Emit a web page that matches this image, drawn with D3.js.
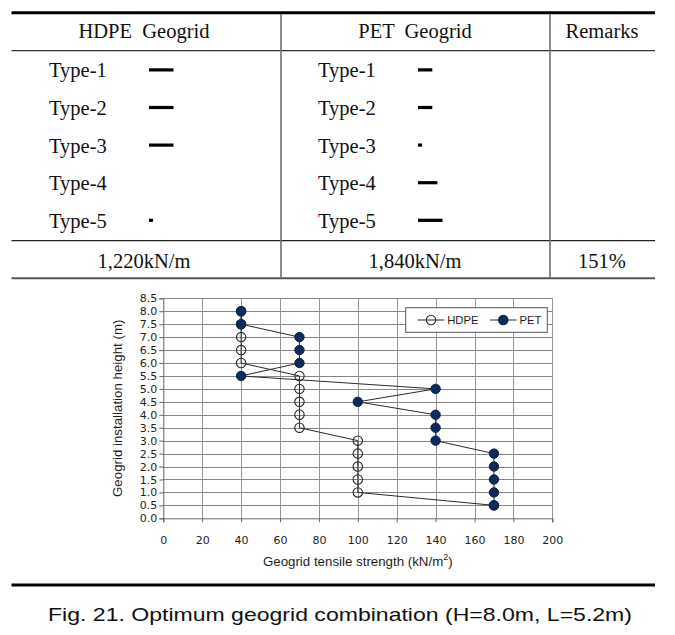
<!DOCTYPE html>
<html>
<head>
<meta charset="utf-8">
<script src="https://cdn.jsdelivr.net/npm/d3@7"></script>
<style>
  html, body { margin: 0; padding: 0; background: #fff; }
  svg { display: block; }
</style>
</head>
<body>
<svg id="fig" width="675" height="635"></svg>
<script>
// ---------- Table data ----------
const tableHeaders = ["HDPE  Geogrid", "PET  Geogrid", "Remarks"];
const typeLabels = ["Type-1", "Type-2", "Type-3", "Type-4", "Type-5"];
const hdpeUnits = [5, 5, 5, 0, 1];
const petUnits = [3, 3, 1, 4, 5];
const totals = ["1,220kN/m", "1,840kN/m", "151%"];

// ---------- Chart data ----------
const heights = [0.5, 1.0, 1.5, 2.0, 2.5, 3.0, 3.5, 4.0, 4.5, 5.0, 5.5, 6.0, 6.5, 7.0, 7.5, 8.0];
const hdpeStrength = [170, 100, 100, 100, 100, 100, 70, 70, 70, 70, 70, 40, 40, 40, 40, 40];
const petStrength  = [170, 170, 170, 170, 170, 140, 140, 140, 100, 140, 40, 70, 70, 70, 40, 40];
const xTicks = [0, 20, 40, 60, 80, 100, 120, 140, 160, 180, 200];
const yTicks = [0.0, 0.5, 1.0, 1.5, 2.0, 2.5, 3.0, 3.5, 4.0, 4.5, 5.0, 5.5, 6.0, 6.5, 7.0, 7.5, 8.0, 8.5];
const seriesNames = ["HDPE", "PET"];
const caption = "Fig. 21. Optimum geogrid combination (H=8.0m, L=5.2m)";

const svg = d3.select("#fig");
const serif = "'Liberation Serif', 'Times New Roman', serif";
const sans = "'Liberation Sans', Arial, sans-serif";

// ---------- Table ----------
const tL = 11.5, tR = 655;
const colDiv = [281, 550];
const colCenters = [144, 415, 602];
const fs = 20.5;

// rules
svg.append("line").attr("x1", tL).attr("x2", tR).attr("y1", 12.7).attr("y2", 12.7)
  .attr("stroke", "#000").attr("stroke-width", 3);
svg.append("line").attr("x1", tL).attr("x2", tR).attr("y1", 50.7).attr("y2", 50.7)
  .attr("stroke", "#333").attr("stroke-width", 1.2);
svg.append("line").attr("x1", tL).attr("x2", tR).attr("y1", 240.7).attr("y2", 240.7)
  .attr("stroke", "#222").attr("stroke-width", 1.2);
svg.append("line").attr("x1", tL).attr("x2", tR).attr("y1", 278.3).attr("y2", 278.3)
  .attr("stroke", "#555").attr("stroke-width", 2);
colDiv.forEach(x => {
  svg.append("line").attr("x1", x).attr("x2", x).attr("y1", 14).attr("y2", 277.5)
    .attr("stroke", "#707070").attr("stroke-width", 1.6);
});

// header
svg.selectAll("text.hdr").data(tableHeaders).join("text")
  .attr("class", "hdr")
  .attr("x", (d, i) => colCenters[i]).attr("y", 37.5)
  .attr("text-anchor", "middle")
  .attr("font-family", serif).attr("font-size", fs).attr("fill", "#111")
  .style("white-space", "pre")
  .attr("xml:space", "preserve")
  .text(d => d);

const rowBase = i => 77.3 + i * 37.6;

// type labels with dash marks
[ {x: 49, dashX: 149, units: hdpeUnits}, {x: 318, dashX: 418, units: petUnits} ].forEach(col => {
  const g = svg.append("g");
  g.selectAll("text").data(typeLabels).join("text")
    .attr("x", col.x).attr("y", (d, i) => rowBase(i))
    .attr("font-family", serif).attr("font-size", fs).attr("fill", "#111")
    .text(d => d);
  g.selectAll("rect").data(col.units).join("rect")
    .attr("x", col.dashX)
    .attr("y", (d, i) => rowBase(i) - 9)
    .attr("width", d => d > 0 ? d * 5.1 - 1 : 0)
    .attr("height", 3.2)
    .attr("fill", "#000");
});

// totals
svg.selectAll("text.tot").data(totals).join("text")
  .attr("class", "tot")
  .attr("x", (d, i) => colCenters[i]).attr("y", 268)
  .attr("text-anchor", "middle")
  .attr("font-family", serif).attr("font-size", fs).attr("fill", "#111")
  .text(d => d);

// ---------- Chart ----------
const x = d3.scaleLinear().domain([0, 200]).range([163.3, 552.3]);
const y = d3.scaleLinear().domain([0, 8.5]).range([518.3, 298.3]);
const chart = svg.append("g");

// gridlines
chart.append("g").selectAll("line").data(yTicks.filter(d => d > 0)).join("line")
  .attr("x1", x(0)).attr("x2", x(200))
  .attr("y1", d => Math.round(y(d)) + 0.5).attr("y2", d => Math.round(y(d)) + 0.5)
  .attr("stroke", "#858585").attr("stroke-width", 1);
chart.append("g").selectAll("line").data(xTicks.filter(d => d > 0)).join("line")
  .attr("x1", d => Math.round(x(d)) + 0.5).attr("x2", d => Math.round(x(d)) + 0.5)
  .attr("y1", y(0)).attr("y2", y(8.5))
  .attr("stroke", "#959595").attr("stroke-width", 1);

// axes
const yAxis = chart.append("g").attr("transform", `translate(${x(0)},0)`)
  .call(d3.axisLeft(y).tickValues(yTicks).tickFormat(d3.format(".1f")).tickSize(4).tickPadding(2));
const xAxis = chart.append("g").attr("transform", `translate(0,${y(0)})`)
  .call(d3.axisBottom(x).tickValues(xTicks).tickSize(4).tickPadding(14));
[yAxis, xAxis].forEach(a => {
  a.select(".domain").attr("stroke", "#666");
  a.selectAll(".tick line").attr("stroke", "#666");
  a.selectAll("text").attr("font-family", "'DejaVu Sans', Verdana, sans-serif")
    .attr("font-size", 11).attr("fill", "#1e1e1e");
});

// axis titles
const xt = chart.append("text")
  .attr("x", (x(0) + x(200)) / 2).attr("y", 566)
  .attr("text-anchor", "middle")
  .attr("font-family", sans).attr("font-size", 13.3).attr("fill", "#1e1e1e");
xt.append("tspan").text("Geogrid tensile strength (kN/m");
xt.append("tspan").attr("dy", -6).attr("font-size", 9).text("2");
xt.append("tspan").attr("dy", 6).text(")");

chart.append("text")
  .attr("transform", `translate(122,${(y(0) + y(8.5)) / 2}) rotate(-90)`)
  .attr("text-anchor", "middle")
  .attr("font-family", sans).attr("font-size", 13.3).attr("fill", "#1e1e1e")
  .text("Geogrid installation height (m)");

// series
const hdpeData = heights.map((h, i) => ({h, v: hdpeStrength[i]}));
const petData = heights.map((h, i) => ({h, v: petStrength[i]}));
const line = d3.line().x(d => x(d.v)).y(d => y(d.h));

chart.append("path").datum(hdpeData).attr("d", line)
  .attr("fill", "none").attr("stroke", "#2a2a2a").attr("stroke-width", 1);
chart.append("g").selectAll("circle").data(hdpeData).join("circle")
  .attr("cx", d => x(d.v)).attr("cy", d => y(d.h)).attr("r", 4.7)
  .attr("fill", "none").attr("stroke", "#2a2a2a").attr("stroke-width", 1.1);

chart.append("path").datum(petData).attr("d", line)
  .attr("fill", "none").attr("stroke", "#2a2a2a").attr("stroke-width", 1);
chart.append("g").selectAll("circle").data(petData).join("circle")
  .attr("cx", d => x(d.v)).attr("cy", d => y(d.h)).attr("r", 4.7)
  .attr("fill", "#0c2a5e").attr("stroke", "#0a1f45").attr("stroke-width", 1);

// legend
const lg = chart.append("g");
lg.append("rect").attr("x", 405.7).attr("y", 307.7).attr("width", 141.6).attr("height", 24.6)
  .attr("fill", "#fff").attr("stroke", "#555").attr("stroke-width", 1);
const legendItems = [
  {name: seriesNames[0], x1: 417.7, fill: "none", stroke: "#2a2a2a"},
  {name: seriesNames[1], x1: 490, fill: "#0c2a5e", stroke: "#0a1f45"}
];
legendItems.forEach(it => {
  lg.append("line").attr("x1", it.x1).attr("x2", it.x1 + 26.6).attr("y1", 320).attr("y2", 320)
    .attr("stroke", "#2a2a2a").attr("stroke-width", 1);
  lg.append("circle").attr("cx", it.x1 + 13.3).attr("cy", 320).attr("r", 4.7)
    .attr("fill", it.fill).attr("stroke", it.stroke).attr("stroke-width", 1.1);
  lg.append("text").attr("x", it.x1 + 29.5).attr("y", 324)
    .attr("font-family", sans).attr("font-size", 11.3).attr("fill", "#1e1e1e")
    .text(it.name);
});

// separator and caption
svg.append("line").attr("x1", tL).attr("x2", tR).attr("y1", 585).attr("y2", 585)
  .attr("stroke", "#000").attr("stroke-width", 3);
svg.append("text")
  .attr("x", 48).attr("y", 621)
  .attr("font-family", sans).attr("font-size", 19).attr("fill", "#111")
  .attr("textLength", 584).attr("lengthAdjust", "spacingAndGlyphs")
  .text(caption);
</script>
</body>
</html>
